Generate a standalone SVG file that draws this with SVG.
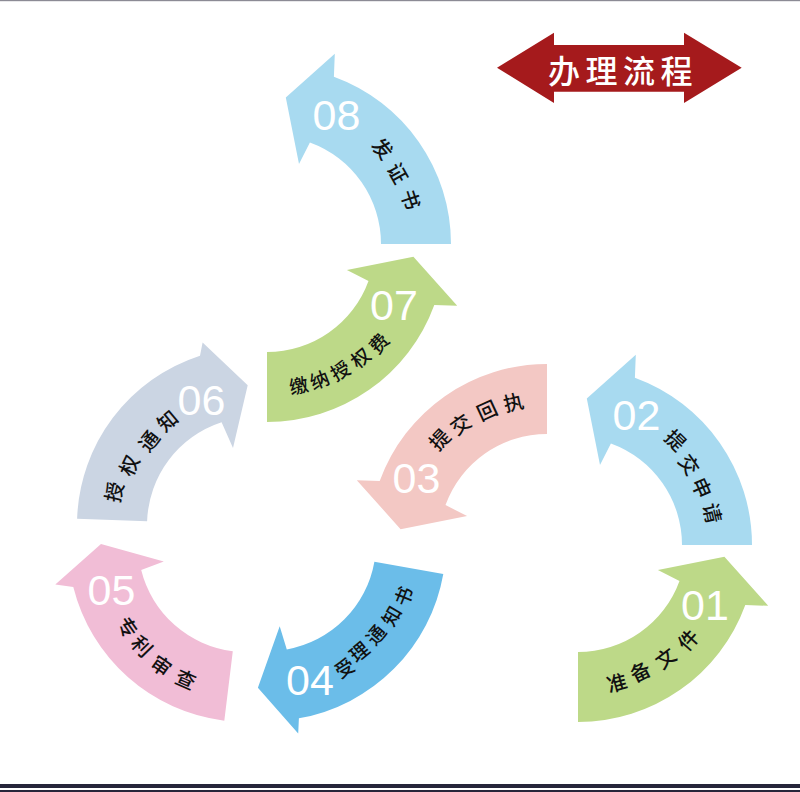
<svg xmlns="http://www.w3.org/2000/svg" width="800" height="792" viewBox="0 0 800 792">
<style>
.num{font-family:"Liberation Sans",Arial,sans-serif;font-size:43px;fill:#fff;text-anchor:middle}
.lbl{font-family:"Noto Sans CJK SC","Noto Sans",sans-serif;font-size:20px;font-weight:500;fill:#111;text-anchor:middle;dominant-baseline:central}
.sm{font-size:19px}
.title{font-family:"Noto Sans CJK SC",sans-serif;font-size:32px;font-weight:500;fill:#fff;letter-spacing:5.5px;dominant-baseline:central}
</style>
<rect x="0" y="0" width="800" height="792" fill="#fff"/>
<rect x="0" y="0" width="800" height="1.2" fill="#8c8b95"/>
<rect x="0" y="784" width="800" height="4" fill="#26253a"/>
<rect x="0" y="790" width="800" height="2" fill="#26253a"/>

<g id="title">
<polygon points="497,67.7 554,32.7 554,45 684,45 684,32.7 741.7,67.7 684,103 684,91.7 554,91.7 554,103" fill="#a51a1c"/>
<text class="title" x="548" y="68.5">办理流程</text>
</g>

<g id="step01">
<path d="M578,722 A178,178 0 0 0 745.3,604.9 L768.2,605.8 L724.4,556.8 L657.9,570 L679.5,580.9 A108,108 0 0 1 578,652 Z" fill="#bdd988"/>
<text class="num" x="705" y="620">01</text>
<text class="lbl" transform="translate(616.5,681.8) rotate(-15.5)">准</text>
<text class="lbl" transform="translate(640,671) rotate(-26.5)">备</text>
<text class="lbl" transform="translate(665.1,657.3) rotate(-37.5)">文</text>
<text class="lbl" transform="translate(687.5,639.5) rotate(-48.5)">件</text>
</g>

<g id="step02">
<path d="M752,545 A178,178 0 0 0 634.9,377.7 L635.8,354.8 L586.8,398.6 L600,465.1 L610.9,443.5 A108,108 0 0 1 682,545 Z" fill="#a8daf0"/>
<text class="num" x="636.5" y="430">02</text>
<text class="lbl" transform="translate(676,439.5) rotate(44)">提</text>
<text class="lbl" transform="translate(690,464) rotate(55)">交</text>
<text class="lbl" transform="translate(702.5,487.5) rotate(66)">申</text>
<text class="lbl" transform="translate(713.3,512.8) rotate(77)">请</text>
</g>

<g id="step03">
<path d="M547,364 A178,178 0 0 0 379.7,481.1 L356.8,480.2 L400.6,529.2 L467.1,516 L445.5,505.1 A108,108 0 0 1 547,434 Z" fill="#f3c8c4"/>
<text class="num" x="416.5" y="493">03</text>
<text class="lbl" transform="translate(439,439) rotate(-46.5)">提</text>
<text class="lbl" transform="translate(460,423.5) rotate(-35.5)">交</text>
<text class="lbl" transform="translate(486.6,409.5) rotate(-24.5)">回</text>
<text class="lbl" transform="translate(513.2,401.3) rotate(-13.5)">执</text>
</g>

<g id="step04">
<path d="M443.3,573.9 A178,178 0 0 1 298.9,718.3 L298.2,733.6 L257.9,687.7 L279.7,626.2 L286.8,649.4 A108,108 0 0 0 374.4,561.7 Z" fill="#6bbde9"/>
<text class="num" x="310" y="695">04</text>
<text class="lbl sm" transform="translate(344,667) rotate(-31.6)">受</text>
<text class="lbl sm" transform="translate(358.5,651) rotate(-39.7)">理</text>
<text class="lbl sm" transform="translate(375,634) rotate(-49.4)">通</text>
<text class="lbl sm" transform="translate(390.5,615.3) rotate(-59.5)">知</text>
<text class="lbl sm" transform="translate(402.5,595.8) rotate(-68.4)">书</text>
</g>

<g id="step05">
<path d="M224.3,720.7 A178,178 0 0 1 73.3,587.1 L55.3,584.5 L101,544 L163.8,561.5 L141.2,570.1 A108,108 0 0 0 232.8,651.2 Z" fill="#f1bdd6"/>
<text class="num" x="111.5" y="605">05</text>
<text class="lbl" transform="translate(128.3,626.7) rotate(54.9)">专</text>
<text class="lbl" transform="translate(142.5,645.5) rotate(45.9)">利</text>
<text class="lbl" transform="translate(161.7,665) rotate(34.9)">审</text>
<text class="lbl" transform="translate(186,678.5) rotate(23.8)">查</text>
</g>

<g id="step06">
<path d="M77.1,518.8 A178,178 0 0 1 200,355.7 L202.6,342.4 L247.7,385.2 L233,448.1 L221.6,422.3 A108,108 0 0 0 147.1,521.2 Z" fill="#cbd5e3"/>
<text class="num" x="201.5" y="415">06</text>
<text class="lbl" transform="translate(113.3,491.7) rotate(-76.8)">授</text>
<text class="lbl" transform="translate(128.3,465) rotate(-64.7)">权</text>
<text class="lbl" transform="translate(148.3,440.5) rotate(-51.5)">通</text>
<text class="lbl" transform="translate(167,420) rotate(-40)">知</text>
</g>

<g id="step07">
<path d="M267,422 A178,178 0 0 0 434.3,304.9 L457.2,305.8 L413.4,256.8 L346.9,270 L368.5,280.9 A108,108 0 0 1 267,352 Z" fill="#bdd988"/>
<text class="num" x="394" y="320">07</text>
<text class="lbl sm" transform="translate(298.4,384.5) rotate(-12.5)">缴</text>
<text class="lbl sm" transform="translate(319,378.5) rotate(-21.5)">纳</text>
<text class="lbl sm" transform="translate(339.5,369.5) rotate(-30.5)">授</text>
<text class="lbl sm" transform="translate(359.6,357) rotate(-39.5)">权</text>
<text class="lbl sm" transform="translate(377.9,342.5) rotate(-48.5)">费</text>
</g>

<g id="step08">
<path d="M451,244 A178,178 0 0 0 333.9,76.7 L334.8,53.8 L285.8,97.6 L299,164.1 L309.9,142.5 A108,108 0 0 1 381,244 Z" fill="#a8daf0"/>
<text class="num" x="336.5" y="130">08</text>
<text class="lbl" transform="translate(383.2,148) rotate(49)">发</text>
<text class="lbl" transform="translate(398.6,172.8) rotate(60.5)">证</text>
<text class="lbl" transform="translate(411.5,199.1) rotate(72)">书</text>
</g>

<g id="connectors"></g>
</svg>
